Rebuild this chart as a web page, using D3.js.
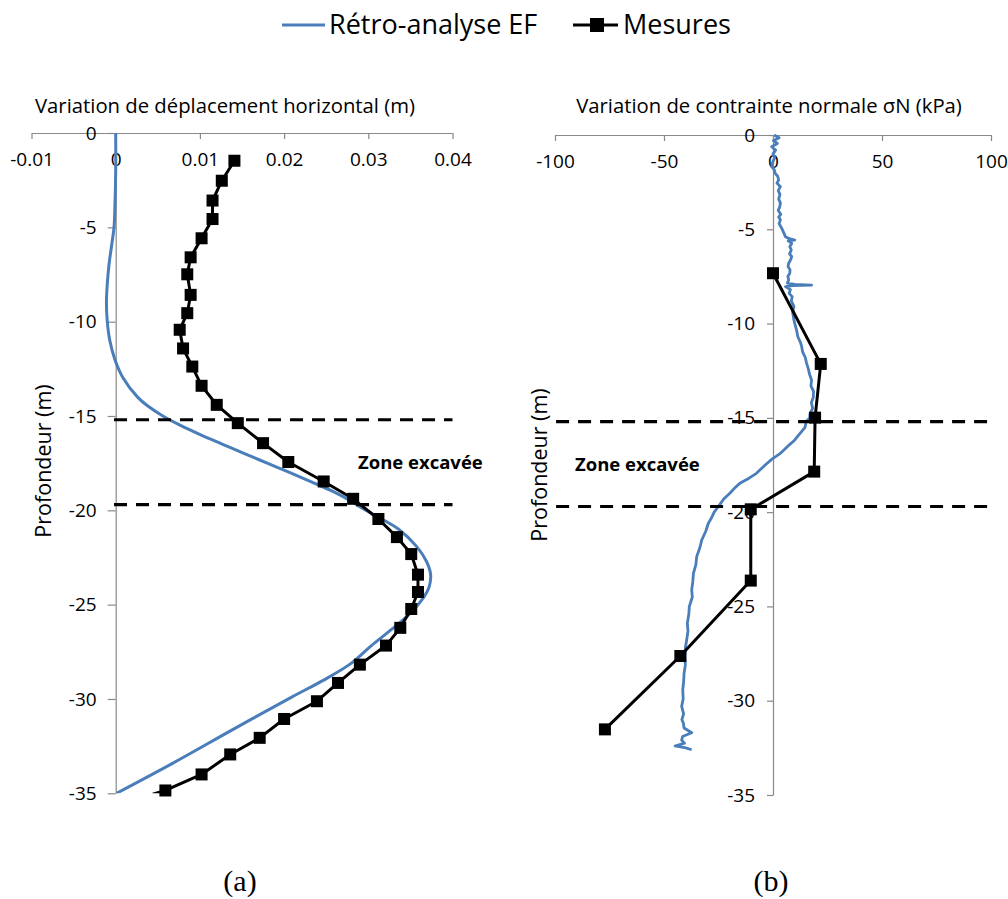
<!DOCTYPE html>
<html><head><meta charset="utf-8">
<script src="https://cdn.jsdelivr.net/npm/d3@7"></script>
<style>body{margin:0;background:#fff} svg{display:block}</style>
</head><body>
<svg id="c" width="1008" height="899"></svg>
<script>
// ---------- data ----------
const dispTicks = [-0.01, 0, 0.01, 0.02, 0.03, 0.04];
const stressTicks = [-100, -50, 0, 50, 100];
const depthTicks = [0, -5, -10, -15, -20, -25, -30, -35];
const excavDepths = [-15.2, -19.7];
const seriesNames = ["Rétro-analyse EF", "Mesures"];
const titleDisp = "Variation de déplacement horizontal (m)";
const titleStress = "Variation de contrainte normale σN (kPa)";
const yTitle = "Profondeur (m)";
const zoneLabel = "Zone excavée";
const panelLabels = ["(a)", "(b)"];

// (a) EF back-analysis: depth (m) / horizontal displacement (m)
const efDispDepth = [0,-2,-4,-5,-6,-7,-8,-9,-10,-11,-12,-13,-14,-14.5,-15,-15.5,-16,-16.5,-17,-17.5,-18,-18.5,-19,-19.5,-20,-21,-21.9,-22.7,-23.4,-24.1,-24.6,-25.4,-26.3,-27.2,-28.1,-29,-29.9,-31.6,-33.4,-35];
const efDisp = [0,0,-0.0001,-0.0002,-0.0005,-0.0008,-0.001,-0.0011,-0.001,-0.0007,-0.0001,0.0009,0.0026,0.0039,0.0056,0.0077,0.0101,0.0127,0.0153,0.0180,0.0207,0.0233,0.0258,0.0279,0.0297,0.0336,0.0357,0.0369,0.0374,0.0372,0.0366,0.0351,0.0328,0.0303,0.0280,0.0247,0.0209,0.0140,0.0068,0.0001];
// (a) measurements
const mesDispDepth = [-1.47,-2.53,-3.58,-4.56,-5.58,-6.59,-7.49,-8.58,-9.55,-10.43,-11.42,-12.38,-13.40,-14.41,-15.38,-16.44,-17.44,-18.47,-19.39,-20.46,-21.42,-22.32,-23.41,-24.33,-25.23,-26.23,-27.17,-28.18,-29.15,-30.12,-31.06,-32.06,-32.94,-34.00,-34.85,-35.05];
const mesDisp = [0.0141,0.0126,0.0115,0.0115,0.0102,0.0089,0.0085,0.0089,0.0085,0.0076,0.0080,0.0091,0.0102,0.0120,0.0145,0.0175,0.0205,0.0247,0.0282,0.0312,0.0334,0.0351,0.0359,0.0359,0.0351,0.0338,0.0321,0.0290,0.0264,0.0239,0.0200,0.0171,0.0136,0.0102,0.0059,0.0044];

// (b) EF back-analysis: depth (m) / normal stress variation (kPa)
const efStressDepth = [0,-0.15,-0.3,-0.45,-0.62,-0.8,-1.0,-1.2,-1.45,-1.68,-1.85,-2.03,-2.2,-2.39,-2.55,-2.74,-2.95,-3.15,-3.4,-3.6,-3.8,-4.0,-4.2,-4.35,-4.5,-4.7,-4.86,-5.05,-5.2,-5.39,-5.5,-5.57,-5.62,-5.75,-5.92,-6.1,-6.3,-6.45,-6.63,-6.8,-6.98,-7.15,-7.33,-7.5,-7.69,-7.85,-7.92,-7.96,-7.99,-8.04,-8.2,-8.4,-8.57,-8.8,-9.1,-9.4,-9.81,-10.1,-10.34,-10.7,-11.0,-11.2,-11.5,-11.8,-12.1,-12.4,-12.7,-13.0,-13.3,-13.6,-13.9,-14.2,-14.5,-14.76,-15.0,-15.2,-15.5,-15.8,-16.0,-16.2,-16.5,-16.9,-17.2,-17.5,-17.94,-18.2,-18.47,-18.7,-19.0,-19.3,-19.71,-20.0,-20.3,-20.6,-21.0,-21.48,-21.9,-22.36,-22.8,-23.25,-23.7,-24.13,-24.5,-25.01,-25.4,-25.9,-26.3,-26.78,-27.2,-27.67,-28.1,-28.55,-29.0,-29.43,-29.9,-30.3,-30.7,-31.0,-31.2,-31.45,-31.7,-31.9,-32.1,-32.25,-32.4,-32.5,-32.6];
const efStress = [0.5,2.8,0.2,2.0,-0.6,1.2,0.0,0.8,-0.2,-0.6,0.6,1.0,2.2,2.6,1.8,3.4,2.4,3.2,2.6,3.4,3.1,2.4,3.6,2.6,3.4,2.8,3.6,4.4,5.0,5.7,7.5,10.0,7.0,8.6,7.7,8.4,7.6,8.6,8.0,7.2,6.9,7.8,7.7,6.8,7.2,6.6,10.0,17.7,9.0,5.7,8.0,7.4,8.8,8.4,9.6,9.0,9.6,10.2,10.8,11.4,12.6,13.1,13.6,14.8,15.4,16.2,16.8,17.7,17.4,18.6,18.5,17.6,18.2,17.0,16.8,15.2,14.7,12.6,11.2,9.8,6.8,3.2,-0.6,-3.6,-7.6,-11.0,-15.2,-17.4,-19.8,-22.6,-25.1,-27.0,-28.2,-29.7,-30.8,-32.7,-33.6,-35.0,-35.4,-36.5,-36.8,-37.3,-37.0,-38.4,-38.6,-39.3,-39.0,-39.6,-40.2,-40.4,-40.2,-40.8,-41.0,-41.4,-41.2,-41.9,-41.0,-41.8,-41.1,-40.8,-37.3,-41.5,-41.9,-40.6,-44.9,-40.0,-37.3];
// (b) measurements
const mesStressDepth = [-7.33,-12.14,-14.99,-17.85,-19.85,-23.63,-27.63,-31.52];
const mesStress = [0,21.9,19.3,18.9,-10.2,-10.2,-42.5,-77.1];

// ---------- drawing ----------
const BLUE = "#4a7ebb", AXIS = "#898989", FONT = "'Open Sans', sans-serif";
const svg = d3.select("#c");

function zip(ds, vs){ return ds.map((d,i)=>({d:d, v:vs[i]})); }

function panel(o){
  const xs = d3.scaleLinear().domain(o.xDomain).range(o.xRange);
  const ys = d3.scaleLinear().domain([0,-35]).range(o.yRange);
  const g = svg.append("g");
  const y0 = ys(0), x0 = xs(0);

  // axes
  const xa = g.append("g").attr("transform",`translate(0,${y0})`)
    .call(d3.axisBottom(xs).tickValues(o.xTicks).tickSize(6).tickPadding(14).tickSizeOuter(0).tickFormat(d=>String(d)));
  const ya = g.append("g").attr("transform",`translate(${x0},0)`)
    .call(d3.axisLeft(ys).tickValues(depthTicks).tickSize(o.yTick).tickPadding(o.yPad).tickSizeOuter(0).tickFormat(d=>String(d)));
  [xa,ya].forEach(a=>{
    a.select(".domain").attr("stroke",AXIS).attr("stroke-width",1.2);
    a.selectAll(".tick line").attr("stroke",AXIS).attr("stroke-width",1.2);
    a.selectAll(".tick text").attr("fill","#000").style("font-family",FONT).style("font-size","19px");
  });

  // clip
  const cid = "clip"+o.id;
  svg.append("clipPath").attr("id",cid).append("rect")
    .attr("x",o.xRange[0]-5).attr("y",y0-20).attr("width",o.xRange[1]-o.xRange[0]+10).attr("height",ys(-35)-y0+20);

  // EF line
  const line = d3.line().x(p=>xs(p.v)).y(p=>ys(p.d)).curve(o.curve);
  g.append("path").datum(zip(o.efDepth,o.ef)).attr("d",line)
    .attr("fill","none").attr("stroke",BLUE).attr("stroke-width",o.efWidth).attr("stroke-linejoin","round")
    .attr("clip-path",`url(#${cid})`);

  // measurements
  const mline = d3.line().x(p=>xs(p.v)).y(p=>ys(p.d));
  const md = zip(o.mesDepth,o.mes);
  g.append("path").datum(md).attr("d",mline)
    .attr("fill","none").attr("stroke","#000").attr("stroke-width",3).attr("stroke-linejoin","round")
    .attr("clip-path",`url(#${cid})`);
  g.selectAll("rect.m").data(md.filter(p=>p.d>=-35)).enter().append("rect").attr("class","m")
    .attr("x",p=>xs(p.v)-6).attr("y",p=>ys(p.d)-6).attr("width",12).attr("height",12).attr("fill","#000");

  // excavation limits
  excavDepths.forEach(d=>{
    g.append("line").attr("x1",xs(o.dashFrom)).attr("x2",xs(o.dashTo)).attr("y1",ys(d)).attr("y2",ys(d))
      .attr("stroke","#000").attr("stroke-width",3.2).attr("stroke-dasharray","13,9");
  });

  // texts
  g.append("text").attr("x",o.titleX).attr("y",113).attr("text-anchor","middle")
    .style("font-family",FONT).style("font-size","20.3px").text(o.title);
  g.append("text").attr("transform",`translate(${o.yTitleX},${o.yTitleY}) rotate(-90)`)
    .attr("text-anchor","middle").attr("dy","0.35em")
    .style("font-family",FONT).style("font-size","21.5px").text(yTitle);
  g.append("text").attr("x",o.zoneX).attr("y",o.zoneY).attr("dy","0.35em")
    .style("font-family",FONT).style("font-size","18.5px").style("font-weight","bold").text(zoneLabel);
  g.append("text").attr("x",o.labX).attr("y",891).attr("text-anchor","middle")
    .style("font-family","'Liberation Serif', serif").style("font-size","30px").text(o.lab);
}

panel({id:"a", xDomain:[-0.01,0.04], xRange:[31.5,452.5], yRange:[133,793.3], xTicks:dispTicks,
  yTick:8, yPad:11, efDepth:efDispDepth, ef:efDisp, efWidth:3, curve:d3.curveCatmullRom.alpha(0.5),
  mesDepth:mesDispDepth, mes:mesDisp, dashFrom:-0.0002, dashTo:0.04,
  title:titleDisp, titleX:225, yTitleX:43, yTitleY:461, zoneX:358, zoneY:463, labX:240, lab:panelLabels[0]});

panel({id:"b", xDomain:[-100,100], xRange:[555,991], yRange:[135,795], xTicks:stressTicks,
  yTick:6, yPad:12, efDepth:efStressDepth, ef:efStress, efWidth:2.8, curve:d3.curveLinear,
  mesDepth:mesStressDepth, mes:mesStress, dashFrom:-99.5, dashTo:99.5,
  title:titleStress, titleX:769, yTitleX:539, yTitleY:465, zoneX:575, zoneY:465, labX:771, lab:panelLabels[1]});

// legend
const lg = svg.append("g");
lg.append("line").attr("x1",282).attr("x2",325).attr("y1",25).attr("y2",25).attr("stroke",BLUE).attr("stroke-width",3);
lg.append("text").attr("x",329).attr("y",34).style("font-family",FONT).style("font-size","27px").text(seriesNames[0]);
lg.append("line").attr("x1",573).attr("x2",618).attr("y1",25).attr("y2",25).attr("stroke","#000").attr("stroke-width",3);
lg.append("rect").attr("x",590).attr("y",18).attr("width",14).attr("height",14).attr("fill","#000");
lg.append("text").attr("x",623).attr("y",34).style("font-family",FONT).style("font-size","27px").text(seriesNames[1]);
</script>
</body></html>
